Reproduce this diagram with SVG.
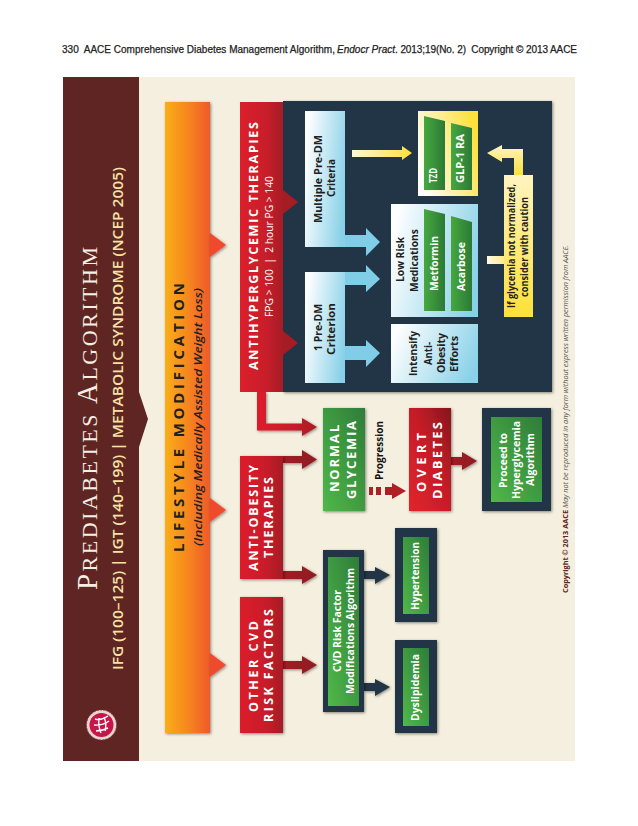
<svg xmlns="http://www.w3.org/2000/svg" width="638" height="826" viewBox="0 0 638 826">
<style>
text{font-family:"Open Sans","Noto Sans","Liberation Sans",sans-serif}
.w{fill:#fff;font-weight:700}
.k{fill:#231f20;font-weight:700}
.h{font-size:12.5px}
.b{font-size:13px}
.s{font-size:10.500px}
.hd{font-family:"Liberation Sans",Arial,sans-serif;font-size:10px;fill:#222;stroke:#222;stroke-width:.25;white-space:pre}
.sh{filter:url(#ds)}
</style>
<defs>
<filter id="ds" x="-20%" y="-20%" width="140%" height="140%"><feDropShadow dx="1" dy="1" stdDeviation="1.6" flood-color="#000" flood-opacity=".45"/></filter>
<linearGradient id="or" x1="0" x2="1" y1="0" y2="0"><stop offset="0" stop-color="#f9ae18"/><stop offset=".5" stop-color="#f6871f"/><stop offset="1" stop-color="#ef5a2a"/></linearGradient>
<linearGradient id="rd" x1="0" x2="1" y1="0" y2="0"><stop offset="0" stop-color="#dc1f2b"/><stop offset=".6" stop-color="#c81e2a"/><stop offset="1" stop-color="#a61c25"/></linearGradient>
<linearGradient id="rd2" x1="0" x2="1" y1="0" y2="0"><stop offset="0" stop-color="#a21a22"/><stop offset="1" stop-color="#8e1a20"/></linearGradient>
<linearGradient id="ov" x1="0" x2="1" y1="1" y2="0"><stop offset="0" stop-color="#e3222c"/><stop offset=".55" stop-color="#c41e28"/><stop offset="1" stop-color="#86151d"/></linearGradient>
<linearGradient id="gr" x1="0" x2="1" y1="1" y2="0"><stop offset="0" stop-color="#50b848"/><stop offset="1" stop-color="#2e7d3a"/></linearGradient>
<linearGradient id="gb" x1="0" x2="1" y1="0" y2="0"><stop offset="0" stop-color="#47a83f"/><stop offset="1" stop-color="#2b7a36"/></linearGradient>
<linearGradient id="bl" x1="0" x2="1" y1=".35" y2=".65"><stop offset="0" stop-color="#fdfeff"/><stop offset="1" stop-color="#89d1e8"/></linearGradient>
<linearGradient id="ye" x1="0" x2="1" y1=".7" y2=".3"><stop offset="0" stop-color="#ffffff"/><stop offset="1" stop-color="#fde03a"/></linearGradient>
<linearGradient id="ya" x1="0" x2="1" y1="0" y2="0"><stop offset="0" stop-color="#fff8d8"/><stop offset="1" stop-color="#fde03a"/></linearGradient>
<linearGradient id="yn" x1="0" x2="0" y1="0" y2="1"><stop offset="0" stop-color="#fff4c0"/><stop offset="1" stop-color="#fde03a"/></linearGradient>
<linearGradient id="yb" x1="0" x2="1" y1="0" y2="0"><stop offset="0" stop-color="#fffbe6"/><stop offset="1" stop-color="#fdeb8a"/></linearGradient>
</defs>

<rect width="638" height="826" fill="#fff"/>
<g id="header">
<text class="hd" x="62" y="53" textLength="273">330  AACE Comprehensive Diabetes Management Algorithm,</text>
<text class="hd" x="337" y="53" font-style="italic" textLength="58">Endocr Pract</text>
<text class="hd" x="395" y="53" textLength="182">. 2013;19(No. 2)  Copyright © 2013 AACE</text>
</g>
<rect id="page" x="63" y="77" width="512" height="684" fill="#f5efdf"/>
<g id="banner">
<path d="M63 77H139V392L148 419L139 447V761H63Z" fill="#5e2522"/>
<text transform="translate(97,590) rotate(-90)" fill="#f4efe2" font-size="22" textLength="343" style="font-family:'Liberation Serif',serif"><tspan font-size="29">P</tspan>REDIABETES <tspan font-size="29">A</tspan>LGORITHM</text>
<text transform="translate(123,670) rotate(-90)" fill="#f7e3a4" font-size="14.500" font-weight="600" textLength="503" lengthAdjust="spacingAndGlyphs">IFG (100–125)  |  IGT (140–199)  |  METABOLIC SYNDROME (NCEP 2005)</text>
<g id="logo"><circle cx="101.5" cy="725" r="15" fill="#e9d6cf"/><circle cx="101.5" cy="725" r="15" fill="none" stroke="#9a3a4a" stroke-width="1" stroke-dasharray="1.5 1.5"/><circle cx="101.5" cy="725" r="12" fill="#c5164a"/><path d="M95 719Q101 721 108 716M94 725Q102 726 109 721M96 731Q102 731 108 728M99 718Q98 726 101 733M104 717Q107 724 105 731" fill="none" stroke="#fff" stroke-width="1.4"/></g>
</g>

<g id="connectors">
<path class="sh" d="M257 392H266V423.500H302V418L317 427L302 436V430.500H257Z" fill="url(#rd)"/>
<path class="sh" d="M283 456H302V450L317 459.500L302 469V463H283Z" fill="url(#rd2)"/>
<path class="sh" d="M283 571H302V566L317 575L302 584V579H283Z" fill="url(#rd2)"/>
<path class="sh" d="M283 661H302V656L317 665L302 674V669H283Z" fill="url(#rd2)"/>
<path class="sh" d="M451 457H462V452L477 461L462 470V465H451Z" fill="url(#rd2)"/>
<path class="sh" d="M364 571H375V567L390 575L375 584V579H364Z" fill="#213547"/>
<path class="sh" d="M364 683H375V679L390 687L375 696V691H364Z" fill="#213547"/>
<g id="progression" fill="#b01e26"><rect x="369" y="487" width="4" height="8"/><rect x="376" y="487" width="5" height="8"/><path d="M385 487H392V483L406 491L392 499V495H385Z"/></g>
</g>

<g id="lifestyle">
<rect class="sh" x="165" y="102" width="45" height="631" fill="url(#or)"/>
<path class="sh" d="M210 233L226 245L210 257Z" fill="#ef4a2e"/><path class="sh" d="M210 498L226 510L210 522Z" fill="#ef4a2e"/><path class="sh" d="M210 653L226 665L210 677Z" fill="#ef4a2e"/>
<text transform="translate(184,552) rotate(-90)" class="k" font-size="15" textLength="269">LIFESTYLE MODIFICATION</text>
<text transform="translate(202,546) rotate(-90)" class="k" style="font-weight:600" font-size="11.500" font-style="italic" textLength="258" lengthAdjust="spacingAndGlyphs">(Including Medically Assisted Weight Loss)</text>
</g>

<g id="antihyper">
<rect class="sh" x="283" y="101" width="269" height="291" fill="#213547"/>
<rect x="240" y="102" width="43" height="290" fill="url(#rd)"/>
<path d="M283 190L298 202L283 214Z" fill="#a61c25"/><path d="M283 331L298 343L283 355Z" fill="#a61c25"/>
<text transform="translate(258,370) rotate(-90)" class="w h" textLength="248">ANTIHYPERGLYCEMIC THERAPIES</text>
<text transform="translate(273,317) rotate(-90)" class="w" style="font-weight:400;white-space:pre" font-size="10" textLength="141" lengthAdjust="spacingAndGlyphs">FPG &gt; 100  |  2 hour PG &gt; 140</text>
</g>

<g id="arrows-inner">
<path d="M345 235H366V228L380 242L366 256V247H345Z" fill="#7fcde6"/>
<path d="M345 272V285H366V292L380 279L366 265V272Z" fill="#7fcde6"/>
<path d="M345 346H366V340L380 353L366 367V360H345Z" fill="#7fcde6"/>
<path d="M352 150H402V146L412 153L402 160V157H352Z" fill="url(#ya)"/>
<rect x="487" y="256" width="17" height="8" fill="url(#yb)"/>
<path d="M514 175V158H502V162L487 153L502 145V149H523V175Z" fill="url(#yn)"/>
</g>

<g id="multiple"><rect x="305" y="111" width="40" height="136" fill="url(#bl)"/>
<text transform="translate(322,223) rotate(-90)" class="k s" textLength="88" lengthAdjust="spacingAndGlyphs">Multiple Pre-DM</text>
<text transform="translate(335,197) rotate(-90)" class="k s" textLength="38" lengthAdjust="spacingAndGlyphs">Criteria</text></g>
<g id="one"><rect x="305" y="272" width="40" height="111" fill="url(#bl)"/>
<text transform="translate(322,351) rotate(-90)" class="k s" textLength="47" lengthAdjust="spacingAndGlyphs">1 Pre-DM</text>
<text transform="translate(335,355) rotate(-90)" class="k s" textLength="52" lengthAdjust="spacingAndGlyphs">Criterion</text></g>
<g id="intensify"><rect x="391" y="324" width="87" height="59" fill="url(#bl)"/>
<text transform="translate(417,376) rotate(-90)" class="k s" textLength="45" lengthAdjust="spacingAndGlyphs">Intensify</text>
<text transform="translate(432,365) rotate(-90)" class="k s" textLength="23" lengthAdjust="spacingAndGlyphs">Anti-</text>
<text transform="translate(445,373) rotate(-90)" class="k s" textLength="40" lengthAdjust="spacingAndGlyphs">Obesity</text>
<text transform="translate(458,372) rotate(-90)" class="k s" textLength="36" lengthAdjust="spacingAndGlyphs">Efforts</text></g>
<g id="lowrisk"><rect x="391" y="204" width="87" height="113" fill="url(#bl)"/>
<text transform="translate(404,282) rotate(-90)" class="k s" textLength="45" lengthAdjust="spacingAndGlyphs">Low Risk</text>
<text transform="translate(418,292) rotate(-90)" class="k s" textLength="63" lengthAdjust="spacingAndGlyphs">Medications</text>
<path d="M424 209L445 214V311H424Z" fill="url(#gb)"/><path d="M451 216L472 222V311H451Z" fill="url(#gb)"/>
<text transform="translate(438,291) rotate(-90)" class="w s" textLength="55" lengthAdjust="spacingAndGlyphs">Metformin</text>
<text transform="translate(465,291) rotate(-90)" class="w s" textLength="49" lengthAdjust="spacingAndGlyphs">Acarbose</text></g>
<g id="yellow"><rect x="418" y="111" width="60" height="85" fill="url(#ye)"/>
<path d="M424 116L445 121V190H424Z" fill="url(#gb)"/><path d="M451 123L472 128V190H451Z" fill="url(#gb)"/>
<text transform="translate(437,183) rotate(-90)" class="w s" textLength="15" lengthAdjust="spacingAndGlyphs">TZD</text>
<text transform="translate(464,183) rotate(-90)" class="w s" textLength="49" lengthAdjust="spacingAndGlyphs">GLP-1 RA</text></g>
<g id="note"><rect x="504" y="175" width="29" height="142" fill="url(#yn)"/>
<text transform="translate(515,308) rotate(-90)" class="k s" textLength="124" lengthAdjust="spacingAndGlyphs">If glycemia not normalized,</text>
<text transform="translate(528,297) rotate(-90)" class="k s" textLength="100" lengthAdjust="spacingAndGlyphs">consider with caution</text></g>

<g id="antiobesity"><rect class="sh" x="240" y="456" width="43" height="123" fill="url(#rd)"/>
<text transform="translate(258,571) rotate(-90)" class="w h" textLength="106">ANTI-OBESITY</text>
<text transform="translate(273,558) rotate(-90)" class="w h" textLength="81">THERAPIES</text></g>
<g id="othercvd"><rect class="sh" x="240" y="597" width="43" height="136" fill="url(#rd)"/>
<text transform="translate(258,712) rotate(-90)" class="w h" textLength="91">OTHER CVD</text>
<text transform="translate(273,722) rotate(-90)" class="w h" textLength="113">RISK FACTORS</text></g>

<g id="normal"><rect class="sh" x="323" y="408" width="42" height="103" fill="url(#gr)"/>
<text transform="translate(339,492) rotate(-90)" class="w b" textLength="67">NORMAL</text>
<text transform="translate(356,499) rotate(-90)" class="w b" textLength="78">GLYCEMIA</text></g>
<text id="prog-label" transform="translate(383,480) rotate(-90)" fill="#111" font-weight="700" font-size="11" textLength="59" lengthAdjust="spacingAndGlyphs">Progression</text>
<g id="overt"><rect class="sh" x="409" y="408" width="42" height="103" fill="url(#ov)"/>
<text transform="translate(426,492) rotate(-90)" class="w b" textLength="59">OVERT</text>
<text transform="translate(442,499) rotate(-90)" class="w b" textLength="77">DIABETES</text></g>
<g id="proceed"><rect class="sh" x="482" y="408" width="69" height="103" fill="#213547"/><rect x="491" y="417" width="51" height="85" fill="url(#gr)"/>
<text transform="translate(507,488) rotate(-90)" class="w s" textLength="55" lengthAdjust="spacingAndGlyphs">Proceed to</text>
<text transform="translate(520,499) rotate(-90)" class="w s" textLength="78" lengthAdjust="spacingAndGlyphs">Hyperglycemia</text>
<text transform="translate(534,486) rotate(-90)" class="w s" textLength="53" lengthAdjust="spacingAndGlyphs">Algorithm</text></g>
<g id="cvd"><rect class="sh" x="323" y="550" width="41" height="162" fill="#213547"/><rect x="328" y="557" width="31" height="149" fill="url(#gr)"/>
<text transform="translate(341,672) rotate(-90)" class="w s" textLength="82" lengthAdjust="spacingAndGlyphs">CVD Risk Factor</text>
<text transform="translate(354,694) rotate(-90)" class="w s" textLength="126" lengthAdjust="spacingAndGlyphs">Modifications Algorithm</text></g>
<g id="hypertension"><rect class="sh" x="395" y="528" width="42" height="94" fill="#213547"/><rect x="403" y="537" width="26" height="77" fill="url(#gr)"/>
<text transform="translate(419,610) rotate(-90)" class="w s" textLength="68" lengthAdjust="spacingAndGlyphs">Hypertension</text></g>
<g id="dyslipidemia"><rect class="sh" x="395" y="640" width="42" height="93" fill="#213547"/><rect x="403" y="648" width="26" height="78" fill="url(#gr)"/>
<text transform="translate(419,721) rotate(-90)" class="w s" textLength="67" lengthAdjust="spacingAndGlyphs">Dyslipidemia</text></g>

<g id="copyright">
<text transform="translate(568,593) rotate(-90)" fill="#5e2522" font-size="7.500" font-weight="700" textLength="83" lengthAdjust="spacingAndGlyphs">Copyright © 2013 AACE</text>
<text transform="translate(568,508) rotate(-90)" fill="#555" font-size="7" font-style="italic" textLength="263" lengthAdjust="spacingAndGlyphs">May not be reproduced in any form without express written permission from AACE.</text>
</g>
</svg>
